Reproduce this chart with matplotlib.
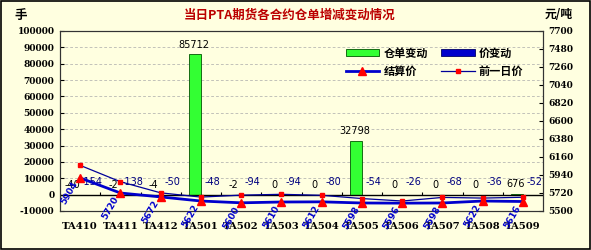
import matplotlib
matplotlib.use('Agg')
import matplotlib.pyplot as plt
from matplotlib.patches import Rectangle
import numpy as np

plt.rcParams['font.family'] = ['Noto Sans CJK SC', 'DejaVu Sans']

contracts = ['TA410', 'TA411', 'TA412', 'TA501', 'TA502', 'TA503',
             'TA504', 'TA505', 'TA506', 'TA507', 'TA508', 'TA509']
wh_change = [-40, -2, -4, 85712, -2, 0, 0, 32798, 0, 0, 0, 676]
price_change = [-154, -138, -50, -48, -94, -94, -80, -54, -26, -68, -36, -52]
settle = [5904, 5720, 5672, 5622, 5600, 5610, 5612, 5598, 5596, 5598, 5622, 5616]
prev_price = [6058, 5858, 5722, 5670, 5694, 5704, 5692, 5652, 5622, 5666, 5658, 5668]

left_ticks = list(range(-10000, 100001, 10000))
right_ticks = list(range(5500, 7701, 220))

bg = '#FFFFE0'
tick_font = dict(family='DejaVu Serif', weight='bold', size=6.5)

fig = plt.figure(figsize=(5.91, 2.5), dpi=100, facecolor=bg)
ax = fig.add_axes([0.1015, 0.156, 0.8175, 0.72])
ax.set_facecolor(bg)
ax2 = ax.twinx()

x = np.arange(len(contracts))
w = 0.3

#bars on left axis
b1 = ax.bar(x - w / 2, wh_change, w, color='#33FF33', edgecolor='#005500', lw=0.6, label='仓单变动', zorder=3)
b2 = ax.bar(x + w / 2, price_change, w, color='#0000CC', edgecolor='#000066', lw=0.6, label='价变动', zorder=3)
ax.set_ylim(-10000, 100000)
ax.set_xlim(-0.5, len(contracts) - 0.5)
ax.set_yticks(left_ticks)
ax.set_yticklabels([str(t) for t in left_ticks], **tick_font)
ax.set_xticks(x)
ax.set_xticklabels(contracts, family='DejaVu Serif', weight='bold', size=7.2)
ax.tick_params(axis='x', length=0, pad=8)
ax.tick_params(axis='y', direction='in', length=3, pad=4)
for t in left_ticks[1:-1]:
    if t != 0:
        ax.axhline(t, color='#aaaaaa', lw=0.5, ls=(0, (4, 3)), zorder=1)
ax.axhline(0, color='black', lw=1, zorder=4)
ax.vlines(np.arange(0.5, len(contracts) - 0.5), 0, 1800, color='black', lw=0.8, zorder=4)

for xi, v in zip(x, wh_change):
    ax.annotate(str(v), (xi - w / 2, max(v, 0)), xytext=(-1, 7), textcoords='offset points',
                ha='center', va='center', fontsize=7, color='black', family='DejaVu Sans', zorder=6)
for xi, v in zip(x, price_change):
    ax.annotate(str(v), (xi + w / 2, 0), xytext=(4, 9), textcoords='offset points',
                ha='center', va='center', fontsize=7, color='#000080', family='DejaVu Sans', zorder=6)

#prices on right axis
l1, = ax2.plot(x, settle, color='#0000CC', lw=2, marker='^', ms=6, mfc='red', mec='red', label='结算价', zorder=5)
l2, = ax2.plot(x, prev_price, color='#000099', lw=0.9, marker='s', ms=2.5, mfc='red', mec='red', label='前一日价', zorder=5)
ax2.set_ylim(5500, 7700)
ax2.set_yticks(right_ticks)
ax2.set_yticklabels([str(t) for t in right_ticks], **tick_font)
ax2.tick_params(axis='y', direction='in', length=3, pad=4)
for xi, v in zip(x, settle):
    ax2.annotate(str(v), (xi, v), xytext=(-3, -3), textcoords='offset points', rotation=60,
                 rotation_mode='anchor', ha='right', va='center', color='#0000CC',
                 fontsize=6.5, fontweight='bold', family='DejaVu Sans', zorder=6)

for a in (ax, ax2):
    for s in a.spines.values():
        s.set_color('#333333')
        s.set_linewidth(0.8)

ax.legend([b1, l1, b2, l2], ['仓单变动', '结算价', '价变动', '前一日价'], ncol=2, frameon=False,
          loc='upper right', bbox_to_anchor=(0.98, 0.97), prop=dict(weight='bold', size=8),
          handlelength=3, columnspacing=1.2, handletextpad=0.4, labelspacing=0.5)

fig.text(0.49, 0.94, '当日PTA期货各合约仓单增减变动情况', color='#BB0000', fontsize=9,
         fontweight='bold', ha='center', va='center')
fig.text(0.035, 0.94, '手', fontsize=9, fontweight='bold', ha='center', va='center')
fig.text(0.945, 0.94, '元/吨', fontsize=8.5, fontweight='bold', ha='center', va='center')

fig.patches.append(Rectangle((0.002, 0.004), 0.996, 0.992, transform=fig.transFigure,
                             fill=False, ec='black', lw=1.2))

fig.savefig('out.png', dpi=100, facecolor=bg)
